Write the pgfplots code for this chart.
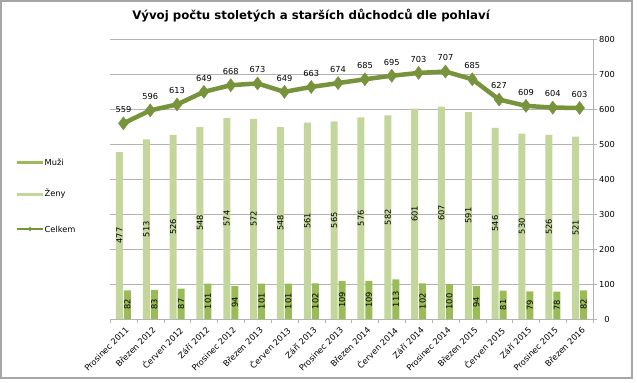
\documentclass[border=0pt]{standalone}
\usepackage{pgfplots}
\pgfplotsset{compat=1.18}
\usepackage{pgfplotstable}
\usepackage{fontspec}
\setmainfont{DejaVu Sans}
\definecolor{muzi}{HTML}{9BBB59}
\definecolor{zeny}{HTML}{C3D69B}
\definecolor{celkem}{HTML}{77933C}
\definecolor{gridc}{HTML}{B3B3B3}
\definecolor{framec}{HTML}{A6A6A6}

\pgfplotstableread{
x muzi zeny celkem
0 82 477 559
1 83 513 596
2 87 526 613
3 101 548 649
4 94 574 668
5 101 572 673
6 101 548 649
7 102 561 663
8 109 565 674
9 109 576 685
10 113 582 695
11 102 601 703
12 100 607 707
13 94 591 685
14 81 546 627
15 79 530 609
16 78 526 604
17 82 521 603
}\data

\begin{document}
\begin{tikzpicture}[x=1bp,y=1bp]
\useasboundingbox (0,0) rectangle (637,382);
\draw[framec, line width=1.5bp] (1,4) rectangle (632,381);
\node[font=\bfseries\fontsize{11.8}{13}\selectfont] at (311,366) {Vývoj počtu stoletých a starších důchodců dle pohlaví};
\begin{axis}[
  at={(110bp,63bp)}, anchor=south west, scale only axis,
  width=483bp, height=280bp,
  xmin=-0.5, xmax=17.5, ymin=0, ymax=800,
  axis x line*=bottom, axis y line*=right,
  axis line style={gridc},
  ytick={0,100,...,800},
  ymajorgrids, major grid style={gridc, line width=0.6bp},
  xtick={0,...,17},
  xticklabels={Prosinec 2011,Březen 2012,Červen 2012,Září 2012,Prosinec 2012,Březen 2013,Červen 2013,Září 2013,Prosinec 2013,Březen 2014,Červen 2014,Září 2014,Prosinec 2014,Březen 2015,Červen 2015,Září 2015,Prosinec 2015,Březen 2016},
  x tick label style={rotate=45, anchor=north east, font=\fontsize{8.3}{9}\selectfont, inner sep=1bp, yshift=-2bp},
  minor xtick={-0.5,0.5,...,17.5},
  tick align=outside,
  major tick length=4bp, minor tick length=4bp,
  major x tick style={draw=none},
  tick style={gridc},
  minor tick style={gridc},
  y tick label style={font=\fontsize{8.3}{9}\selectfont, anchor=center, xshift=10bp},
  /pgf/number format/assume math mode=true,
  clip=false,
]
\addplot[ybar, bar width=7bp, bar shift=-4bp, fill=zeny, draw=none] table[x=x, y=zeny] {\data};
\addplot[ybar, bar width=7bp, bar shift=4bp, fill=muzi, draw=none] table[x=x, y=muzi] {\data};
\addplot[draw=none, mark=none, nodes near coords, point meta=explicit,
  every node near coord/.append style={rotate=90, anchor=center, font=\fontsize{8.3}{9}\selectfont, text=black}]
  table[x expr=\thisrow{x}-0.149, y expr=\thisrow{zeny}/2, meta=zeny] {\data};
\addplot[draw=none, mark=none, nodes near coords, point meta=explicit,
  every node near coord/.append style={rotate=90, anchor=center, font=\fontsize{8.3}{9}\selectfont, text=black}]
  table[x expr=\thisrow{x}+0.149, y expr=\thisrow{muzi}/2, meta=muzi] {\data};
\addplot[celkem, line width=4.5bp, mark=diamond*, mark size=6.5bp,
  mark options={fill=celkem, line width=0.5bp, solid},
  nodes near coords, point meta=explicit,
  every node near coord/.append style={font=\fontsize{8.3}{9}\selectfont, text=black, anchor=south, yshift=7bp}]
  table[x=x, y=celkem, meta=celkem] {\data};
\end{axis}
\draw[muzi, line width=3bp] (17,220) -- (43,220);
\node[anchor=west, font=\fontsize{8.3}{9}\selectfont, inner sep=1.5bp] at (43,220) {Muži};
\draw[zeny, line width=3bp] (17,188) -- (43,188);
\node[anchor=west, font=\fontsize{8.3}{9}\selectfont, inner sep=1.5bp] at (43,188) {Ženy};
\draw[celkem, line width=2.5bp] (17,153) -- (43,153);
\fill[celkem] (30,155.5) -- (31.8,153) -- (30,150.5) -- (28.2,153) -- cycle;
\node[anchor=west, font=\fontsize{8.3}{9}\selectfont, inner sep=1.5bp] at (43,153) {Celkem};
\end{tikzpicture}
\end{document}
